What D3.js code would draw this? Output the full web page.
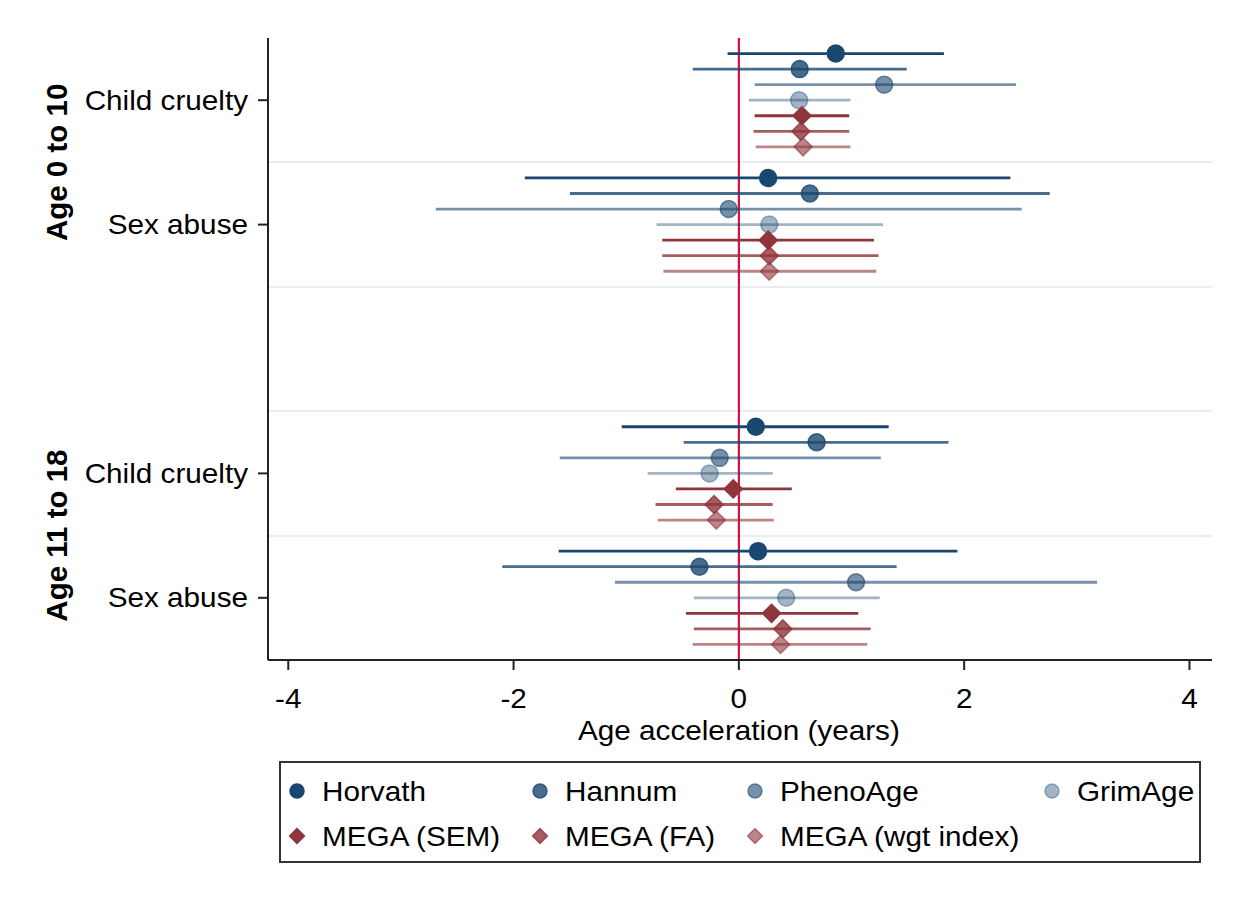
<!DOCTYPE html>
<html>
<head>
<meta charset="utf-8">
<script src="https://cdn.jsdelivr.net/npm/d3@7"></script>
<style>
  body { margin: 0; background: #fff; }
  svg { display: block; font-family: Arial, 'Liberation Sans', sans-serif; }
</style>
</head>
<body>
<svg id="chart" width="1243" height="901"></svg>
<script>
// clocks, top to bottom inside each row block
const series = ['Horvath', 'Hannum', 'PhenoAge', 'GrimAge', 'MEGA (SEM)', 'MEGA (FA)', 'MEGA (wgt index)'];
const seriesColor = ['#1a476f', '#1a476f', '#1a476f', '#1a476f', '#90353b', '#90353b', '#90353b'];
const seriesAlpha = [1, 0.8, 0.6, 0.4, 1, 0.8, 0.6];
const seriesShape = ['circle', 'circle', 'circle', 'circle', 'diamond', 'diamond', 'diamond'];

// row blocks ('' = empty spacer between age groups)
const rowKeys = ['cc0', 'sa0', '', 'cc11', 'sa11'];
const rowLabels = ['Child cruelty', 'Sex abuse', '', 'Child cruelty', 'Sex abuse'];
const groupLabels = ['Age 0 to 10', 'Age 11 to 18'];
const groupRows = [['cc0', 'sa0'], ['cc11', 'sa11']];

// estimates with lower / upper CI
const est = {
  cc0: [0.86, 0.54, 1.29, 0.535, 0.56, 0.55, 0.57],
  sa0: [0.26, 0.63, -0.09, 0.27, 0.26, 0.27, 0.27],
  cc11: [0.15, 0.69, -0.17, -0.26, -0.05, -0.22, -0.20],
  sa11: [0.17, -0.35, 1.04, 0.42, 0.29, 0.39, 0.37],
};
const lower = {
  cc0: [-0.10, -0.41, 0.14, 0.09, 0.14, 0.13, 0.15],
  sa0: [-1.90, -1.50, -2.69, -0.73, -0.68, -0.68, -0.67],
  cc11: [-1.04, -0.49, -1.59, -0.81, -0.56, -0.74, -0.72],
  sa11: [-1.60, -2.10, -1.10, -0.40, -0.47, -0.40, -0.41],
};
const upper = {
  cc0: [1.82, 1.49, 2.46, 0.99, 0.98, 0.98, 0.99],
  sa0: [2.41, 2.76, 2.51, 1.28, 1.20, 1.24, 1.22],
  cc11: [1.33, 1.86, 1.26, 0.30, 0.47, 0.30, 0.31],
  sa11: [1.94, 1.40, 3.18, 1.25, 1.06, 1.17, 1.14],
};

const xTicks = [-4, -2, 0, 2, 4];
const xTitle = 'Age acceleration (years)';

const plot = { left: 268, right: 1212, top: 38, bottom: 660 };
const textStretch = 1.1;
const fontSize = 27;

const svg = d3.select('#chart');

const xScale = d3.scaleLinear()
  .domain([-4.18, 4.2])
  .range([plot.left, plot.right]);

const yBlock = d3.scaleBand()
  .domain(rowKeys.map((k, i) => k || `gap${i}`))
  .range([plot.top, plot.bottom])
  .padding(0);

const yInner = d3.scalePoint()
  .domain(series)
  .range([0, yBlock.bandwidth()])
  .padding(1);

// horizontal text is drawn a bit wider, like the original export
const hText = (parent, x, y, str, anchor, size, weight) => parent.append('g')
  .attr('transform', `translate(${x},${y}) scale(${textStretch},1)`)
  .append('text')
  .attr('text-anchor', anchor)
  .attr('font-size', size)
  .attr('font-weight', weight || 'normal')
  .attr('fill', '#000')
  .text(str);

// separator lines between row blocks
const seps = [];
rowKeys.forEach((k) => {
  if (!k) return;
  const y0 = yBlock(k);
  const y1 = y0 + yBlock.bandwidth();
  if (y0 > plot.top + 1) seps.push(y0);
  if (y1 < plot.bottom - 1) seps.push(y1);
});
svg.append('g')
  .selectAll('line')
  .data(Array.from(new Set(seps.map(Math.round))))
  .join('line')
  .attr('x1', plot.left)
  .attr('x2', plot.right)
  .attr('y1', d => d)
  .attr('y2', d => d)
  .attr('stroke', '#e7eeee')
  .attr('stroke-width', 2);

// zero reference line
svg.append('line')
  .attr('x1', xScale(0))
  .attr('x2', xScale(0))
  .attr('y1', plot.top)
  .attr('y2', plot.bottom)
  .attr('stroke', '#cf1340')
  .attr('stroke-width', 2.2);

// flatten data
const points = [];
rowKeys.forEach((k) => {
  if (!k) return;
  series.forEach((s, i) => {
    points.push({
      row: k, s, i, est: est[k][i], lo: lower[k][i], hi: upper[k][i],
    });
  });
});

const yPos = d => yBlock(d.row) + yInner(d.s);

svg.append('g')
  .selectAll('line')
  .data(points)
  .join('line')
  .attr('x1', d => xScale(d.lo))
  .attr('x2', d => xScale(d.hi))
  .attr('y1', yPos)
  .attr('y2', yPos)
  .attr('stroke', d => seriesColor[d.i])
  .attr('stroke-opacity', d => seriesAlpha[d.i])
  .attr('stroke-width', 2.8);

const circleSym = d3.symbol().type(d3.symbolCircle);
const diamondSym = d3.symbol().type(d3.symbolSquare);

const markerPath = (shape, big) => (shape === 'circle'
  ? circleSym.size(Math.PI * (big ? 8.5 : 7) ** 2)()
  : diamondSym.size((big ? 12.8 : 10.5) ** 2)());

const markerRot = shape => (shape === 'diamond' ? ' rotate(45)' : '');

svg.append('g')
  .selectAll('path')
  .data(points)
  .join('path')
  .attr('d', d => markerPath(seriesShape[d.i], true))
  .attr('transform', d => `translate(${xScale(d.est)},${yPos(d)})${markerRot(seriesShape[d.i])}`)
  .attr('fill', d => seriesColor[d.i])
  .attr('fill-opacity', d => seriesAlpha[d.i])
  .attr('stroke', d => seriesColor[d.i])
  .attr('stroke-opacity', d => seriesAlpha[d.i])
  .attr('stroke-width', 1.5);

// axes
const axisColor = '#222';
const yAxis = svg.append('g');
yAxis.append('line')
  .attr('x1', plot.left)
  .attr('x2', plot.left)
  .attr('y1', plot.top)
  .attr('y2', plot.bottom)
  .attr('stroke', axisColor)
  .attr('stroke-width', 2);

rowKeys.forEach((k, i) => {
  if (!k) return;
  const yc = yBlock(k) + yBlock.bandwidth() / 2;
  yAxis.append('line')
    .attr('x1', plot.left - 10)
    .attr('x2', plot.left)
    .attr('y1', yc)
    .attr('y2', yc)
    .attr('stroke', axisColor)
    .attr('stroke-width', 2);
  hText(yAxis, plot.left - 20, yc + 9.5, rowLabels[i], 'end', fontSize);
});

groupLabels.forEach((g, i) => {
  const rows = groupRows[i];
  const y0 = yBlock(rows[0]);
  const y1 = yBlock(rows[rows.length - 1]) + yBlock.bandwidth();
  svg.append('text')
    .attr('transform', `translate(67,${(y0 + y1) / 2}) rotate(-90)`)
    .attr('text-anchor', 'middle')
    .attr('font-size', 29.5)
    .attr('font-weight', 'bold')
    .text(g);
});

const xAxis = svg.append('g');
xAxis.append('line')
  .attr('x1', plot.left)
  .attr('x2', plot.right)
  .attr('y1', plot.bottom)
  .attr('y2', plot.bottom)
  .attr('stroke', axisColor)
  .attr('stroke-width', 2);

xTicks.forEach((t) => {
  xAxis.append('line')
    .attr('x1', xScale(t))
    .attr('x2', xScale(t))
    .attr('y1', plot.bottom)
    .attr('y2', plot.bottom + 10)
    .attr('stroke', axisColor)
    .attr('stroke-width', 2);
  hText(xAxis, xScale(t), plot.bottom + 48, String(t), 'middle', fontSize);
});

hText(svg, xScale(0), plot.bottom + 80, xTitle, 'middle', fontSize);

// legend
const legend = svg.append('g');
legend.append('rect')
  .attr('x', 280)
  .attr('y', 762)
  .attr('width', 920)
  .attr('height', 100)
  .attr('fill', 'none')
  .attr('stroke', '#333')
  .attr('stroke-width', 2);

const legendCols = [297, 540, 755, 1052];
const legendRows = [791, 836];
series.forEach((s, i) => {
  const row = i < 4 ? 0 : 1;
  const col = i < 4 ? i : i - 4;
  const lx = legendCols[col];
  const ly = legendRows[row];
  legend.append('path')
    .attr('d', markerPath(seriesShape[i], false))
    .attr('transform', `translate(${lx},${ly})${markerRot(seriesShape[i])}`)
    .attr('fill', seriesColor[i])
    .attr('fill-opacity', seriesAlpha[i])
    .attr('stroke', seriesColor[i])
    .attr('stroke-opacity', seriesAlpha[i])
    .attr('stroke-width', 1.5);
  hText(legend, lx + 25, ly + 10, s, 'start', fontSize);
});
</script>
</body>
</html>
